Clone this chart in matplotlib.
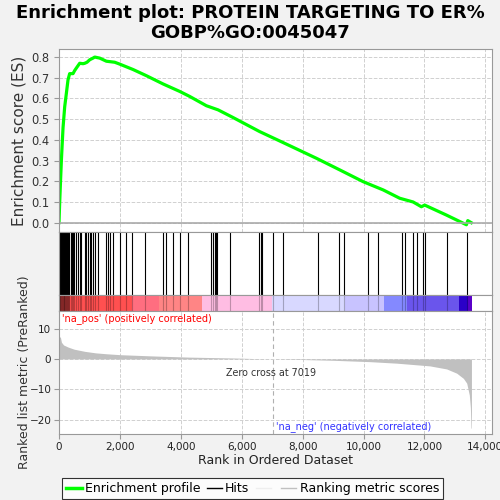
import matplotlib.pyplot as plt
from matplotlib.lines import Line2D

# enrichment profile (rank, ES)
es_rank = [0, 23, 50, 78, 105, 133, 160, 187, 243, 296, 350, 460, 515, 570, 680, 790,
           845, 920, 1009, 1117, 1173, 1337, 1555, 1830, 1993, 2430, 2870, 3420, 3965,
           4290, 4840, 5225, 5716, 6590, 7360, 8455, 9220, 9990, 10650, 11190, 11630,
           11900, 12010, 12720, 13380, 13425, 13540]
es_value = [0.0, 0.10, 0.20, 0.30, 0.38, 0.46, 0.51, 0.56, 0.626, 0.69, 0.72, 0.72,
            0.735, 0.747, 0.77, 0.768, 0.77, 0.775, 0.787, 0.795, 0.80, 0.795, 0.78,
            0.775, 0.766, 0.74, 0.71, 0.67, 0.634, 0.61, 0.565, 0.545, 0.508, 0.44,
            0.387, 0.311, 0.255, 0.198, 0.158, 0.118, 0.10, 0.077, 0.085, 0.037, -0.01,
            0.01, 0.0]

hits = [5, 18, 30, 42, 55, 70, 95, 108, 120, 135, 150, 162, 175, 190, 205, 220, 236,
        250, 265, 280, 300, 318, 335, 384, 420, 461, 494, 571, 626, 681, 714, 845, 900,
        955, 1009, 1064, 1119, 1174, 1283, 1557, 1612, 1666, 1776, 1995, 2214, 2400,
        2816, 3420, 3529, 3748, 3967, 4241, 5008, 5063, 5117, 5172, 5194, 5610, 6575,
        6619, 6652, 7035, 7364, 8515, 9205, 9358, 10158, 10487, 11254, 11364, 11638,
        11770, 11967, 12022, 12734, 13414]

# ranked list metric (rank, value)
metric_rank = [0, 50, 80, 150, 300, 500, 845, 1200, 1557, 2000, 3035, 4240, 5000,
               5770, 6500, 7019, 8000, 9000, 10210, 11090, 12180, 12730, 13060, 13280,
               13390, 13475, 13510, 13530, 13545]
metric_value = [7.6, 7.0, 5.5, 4.6, 3.9, 3.2, 2.5, 2.0, 1.7, 1.4, 1.0, 0.6, 0.45,
                0.3, 0.1, 0.0, -0.2, -0.45, -0.9, -1.4, -2.3, -3.3, -4.7, -6.4, -8.0,
                -11.9, -16.0, -22.8, -22.8]

# colour bar segments
bar_edges = [0, 2400, 3276, 4680, 7010, 9390, 10670, 11440, 13150, 13440, 13550]
bar_colors = ["#ff5050", "#ff6e80", "#ff8585", "#ffbde3", "#d8d8ff", "#c8c3ff",
              "#8489ff", "#6a55ec", "#2a00c8", "#5a00c8"]

zero_cross = 7019
xmax = 14220

fig = plt.figure(figsize=(5, 5), dpi=100, facecolor="#f2f2f2")
ax_es = fig.add_axes([0.118, 0.536, 0.866, 0.366])
ax_hit = fig.add_axes([0.118, 0.41, 0.866, 0.126])
ax_bar = fig.add_axes([0.118, 0.378, 0.866, 0.032])
ax_m = fig.add_axes([0.118, 0.132, 0.866, 0.246])

grid_kw = dict(color="#d0d0d0", linestyle="--", linewidth=0.7)
for ax in (ax_es, ax_hit, ax_bar, ax_m):
    ax.set_xlim(0, xmax)
    ax.set_facecolor("white")
    for s in ax.spines.values():
        s.set_color("#999999")
        s.set_linewidth(0.8)

xt = [0, 2000, 4000, 6000, 8000, 10000, 12000, 14000]

fig.text(0.5, 0.992, "Enrichment plot: PROTEIN TARGETING TO ER%\nGOBP%GO:0045047",
         ha="center", va="top", fontsize=13, fontweight="bold", linespacing=1.15)

# ES panel
ax_es.plot(es_rank, es_value, color="#00ff00", linewidth=2.3)
ax_es.axhline(0, color="#aaaaaa", linewidth=1.2)
ax_es.set_ylim(-0.045, 0.839)
ax_es.set_yticks([0.0, 0.1, 0.2, 0.3, 0.4, 0.5, 0.6, 0.7, 0.8])
ax_es.set_xticks(xt)
ax_es.set_xticklabels([])
ax_es.grid(True, **grid_kw)
ax_es.set_axisbelow(True)
ax_es.tick_params(axis="x", length=0)
ax_es.tick_params(axis="y", labelsize=8.3, labelcolor="#333333", color="#999999")
ax_es.set_ylabel("Enrichment score (ES)", fontsize=11, color="#333333")
ax_es.yaxis.set_label_coords(-0.075, 0.5)

# hits panel
ax_hit.vlines(hits, 0, 1, color="black", linewidth=0.8)
ax_hit.set_ylim(0, 1)
ax_hit.set_xticks([])
ax_hit.set_yticks([])

# colour bar
for i, c in enumerate(bar_colors):
    ax_bar.axvspan(bar_edges[i], bar_edges[i + 1], color=c, linewidth=0)
ax_bar.vlines(hits, 0, 1, color="black", linewidth=0.8, alpha=0.25)
ax_bar.set_ylim(0, 1)
ax_bar.set_xticks([])
ax_bar.set_yticks([])

# ranked metric panel
ax_m.fill_between(metric_rank, metric_value, 0, color="#c0c0c0", linewidth=0)
ax_m.axvline(zero_cross, color="#b0b0b0", linestyle=(0, (4, 3)), linewidth=0.8)
ax_m.set_ylim(-24.75, 15.8)
ax_m.set_yticks([10, 0, -10, -20])
ax_m.set_xticks(xt)
ax_m.set_xticklabels([f"{v:,}" for v in xt])
ax_m.grid(True, **grid_kw)
ax_m.set_axisbelow(True)
ax_m.tick_params(labelsize=7.5, labelcolor="#222222", color="#999999", pad=2)
ax_m.set_xlabel("Rank in Ordered Dataset", fontsize=9, color="#222222")
ax_m.xaxis.set_label_coords(0.5, -0.16)
ax_m.set_ylabel("Ranked list metric (PreRanked)", fontsize=9, color="#333333")
ax_m.yaxis.set_label_coords(-0.065, 0.5)
ax_m.text(90, 13.3, "'na_pos' (positively correlated)", color="red", fontsize=7,
          va="center")
ax_m.text(6960, -4.6, f"Zero cross at {zero_cross}", color="#333333", fontsize=6.9,
          ha="center", va="center")
ax_m.text(7130, -22.3, "'na_neg' (negatively correlated)", color="#3333ff", fontsize=7,
          va="center")

handles = [Line2D([], [], color="#00ff00", linewidth=2.5),
           Line2D([], [], color="black", linewidth=1),
           Line2D([], [], color="#eeeeee", linewidth=1),
           Line2D([], [], color="#c0c0c0", linewidth=1)]
labels = ["Enrichment profile", "Hits", "", "Ranking metric scores"]
leg = fig.legend(handles, labels, loc="lower left", bbox_to_anchor=(0.122, 0.0),
                 ncol=4, fontsize=9, frameon=True, fancybox=False,
                 handlelength=1.25, handletextpad=0.25, columnspacing=0.5,
                 borderpad=0.3, borderaxespad=0.1, edgecolor="black")
leg.get_frame().set_linewidth(0.8)

fig.savefig("out.png", dpi=100, facecolor=fig.get_facecolor())
